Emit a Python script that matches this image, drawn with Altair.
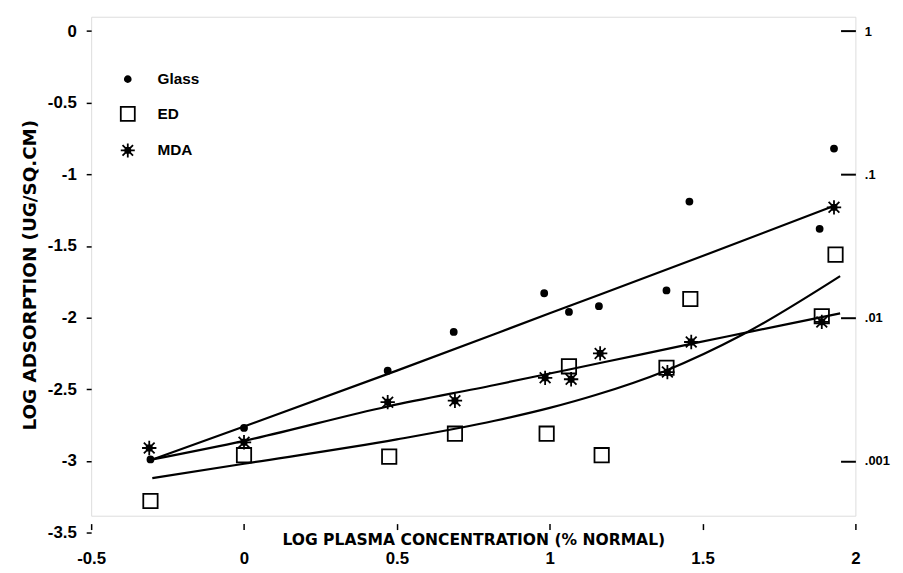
import altair as alt
import pandas as pd

# ---- data ----
glass_x = [-0.306, 0.0, 0.47, 0.686, 0.982, 1.063, 1.161, 1.382, 1.457, 1.883, 1.93]
glass_y = [-2.99, -2.77, -2.37, -2.10, -1.83, -1.96, -1.92, -1.81, -1.19, -1.38, -0.82]

ed_x = [-0.306, 0.0, 0.475, 0.69, 0.99, 1.063, 1.17, 1.382, 1.46, 1.89, 1.935]
ed_y = [-3.28, -2.96, -2.97, -2.81, -2.81, -2.34, -2.96, -2.35, -1.87, -1.99, -1.56]

mda_x = [-0.31, 0.0, 0.47, 0.69, 0.985, 1.07, 1.165, 1.385, 1.463, 1.89, 1.93]
mda_y = [-2.91, -2.87, -2.59, -2.58, -2.42, -2.43, -2.25, -2.38, -2.17, -2.03, -1.23]

# fitted curves
glass_fit_x = [-0.3, 0.0, 0.5, 1.0, 1.5, 1.93]
glass_fit_y = [-2.99, -2.76, -2.37, -1.97, -1.57, -1.22]
mda_fit_x = [-0.3, 0.0, 0.47, 0.82, 1.0, 1.18, 1.47, 1.63, 1.95]
mda_fit_y = [-2.99, -2.86, -2.62, -2.47, -2.39, -2.31, -2.18, -2.11, -1.97]
ed_fit_x = [-0.3, 0.0, 0.5, 0.82, 1.0, 1.15, 1.38, 1.63, 1.95]
ed_fit_y = [-3.12, -3.02, -2.85, -2.72, -2.63, -2.54, -2.37, -2.12, -1.71]

series_names = ["Glass", "ED", "MDA"]
x_ticks = [-0.5, 0, 0.5, 1, 1.5, 2]
y_ticks = [0, -0.5, -1, -1.5, -2, -2.5, -3, -3.5]
right_ticks = [0, -1, -2, -3]
right_labels = ["1", ".1", ".01", ".001"]

pts = pd.concat([
    pd.DataFrame({"series": "Glass", "x": glass_x, "y": glass_y}),
    pd.DataFrame({"series": "ED", "x": ed_x, "y": ed_y}),
    pd.DataFrame({"series": "MDA", "x": mda_x, "y": mda_y}),
], ignore_index=True)

fits = pd.concat([
    pd.DataFrame({"series": "Glass", "x": glass_fit_x, "y": glass_fit_y}),
    pd.DataFrame({"series": "ED", "x": ed_fit_x, "y": ed_fit_y}),
    pd.DataFrame({"series": "MDA", "x": mda_fit_x, "y": mda_fit_y}),
], ignore_index=True)

FONT = "Liberation Sans"
TFONT = "DejaVu Sans"

PLOT_W, PLOT_H = 772, 504

dot = "M0.42,0A0.42,0.42 0 1,1 -0.42,0A0.42,0.42 0 1,1 0.42,0Z"
box = "M-1,-1H1V1H-1Z"
star = ("M-1,0H1M0,-1V1M-0.75,-0.75L0.75,0.75M-0.75,0.75L0.75,-0.75"
        "M-0.35,-0.35H0.35V0.35H-0.35Z")

xscale = alt.Scale(domain=[-0.5, 2.0], nice=False, zero=False)
# the -3.5 tick sits a little below the drawn frame, as in the scan
yscale = alt.Scale(domain=[-3.5, 0.1], range=[PLOT_H + 17, 0], nice=False, zero=False)

label_map = "{" + ",".join(f"'{v}':'{l}'" for v, l in zip(right_ticks, right_labels)) + "}"

x_enc = alt.X(
    "x:Q", scale=xscale,
    axis=alt.Axis(
        values=x_ticks, title="LOG PLASMA CONCENTRATION (% NORMAL)",
        labelExpr="'' + datum.value", domain=False, offset=8, tickSize=6,
        tickWidth=1.5, tickColor="black", labelPadding=21, labelFontSize=17,
        labelFont=FONT, labelFontWeight="bold", labelColor="black",
        labelFlush=False,
        titleFont=TFONT, titleFontSize=15.7, titleFontWeight="bold",
        titleColor="black", titleY=16, titleBaseline="middle", grid=False,
    ),
)

legend = alt.Legend(
    title=None, orient="none", legendX=29, legendY=55, padding=0,
    rowPadding=15, symbolSize=200, labelFont=FONT, labelFontSize=15.5,
    labelFontWeight="bold", labelColor="black", labelOffset=22,
    symbolStrokeWidth=1.8,
)

points = alt.Chart(pts).mark_point(
    strokeWidth=1.8, opacity=1, fillOpacity=1, size=210
).encode(
    x=x_enc,
    y=alt.Y(
        "y:Q", scale=yscale,
        axis=alt.Axis(
            values=y_ticks, title="LOG ADSORPTION (UG/SQ.CM)",
            labelExpr="'' + datum.value", domain=False, tickSize=5,
            tickWidth=1.5, tickColor="black", labelPadding=10,
            labelFontSize=17, labelFont=FONT, labelFontWeight="bold",
            labelColor="black", titleFont=TFONT, titleFontSize=18.5,
            titleFontWeight="bold", titleColor="black", titlePadding=8,
            grid=False,
        ),
    ),
    shape=alt.Shape("series:N", scale=alt.Scale(domain=series_names, range=[dot, box, star]),
                    legend=legend),
    fill=alt.Fill("series:N", scale=alt.Scale(domain=series_names,
                                             range=["black", "transparent", "black"]),
                  legend=legend),
    stroke=alt.Stroke("series:N", scale=alt.Scale(domain=series_names,
                                                 range=["black", "black", "black"]),
                      legend=legend),
)

lines = alt.Chart(fits).mark_line(
    color="black", strokeWidth=2.2, interpolate="monotone"
).encode(
    x=alt.X("x:Q", scale=xscale),
    y=alt.Y(
        "y:Q", scale=yscale,
        axis=alt.Axis(
            orient="right", values=right_ticks, title=None,
            labelExpr=label_map + "[datum.value + '']",
            domain=False, offset=-15, tickSize=15, tickWidth=2,
            tickColor="black", labelPadding=9, labelFontSize=13,
            labelFont=FONT, labelFontWeight="bold", labelColor="black",
            labelAlign="left", grid=False,
        ),
    ),
    detail="series:N",
)

chart = alt.layer(points, lines).resolve_scale(y="independent").properties(
    width=PLOT_W, height=PLOT_H,
    padding={"left": 12, "top": 6, "right": 5, "bottom": 2},
).configure_view(stroke="black", strokeWidth=2.2).configure(background="white")

chart.save("out.html", embed_options={"renderer": "svg", "actions": False})
